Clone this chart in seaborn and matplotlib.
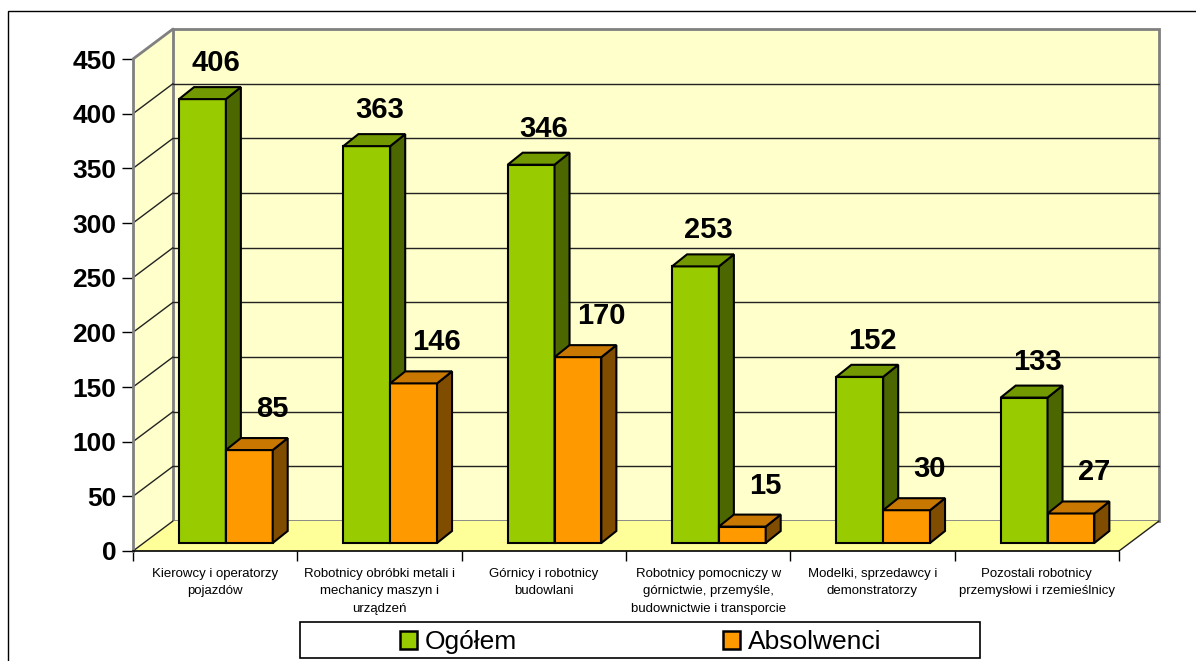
import matplotlib

matplotlib.use("Agg")

import matplotlib.pyplot as plt
import numpy as np
import pandas as pd
import seaborn as sns
from matplotlib.lines import Line2D
from matplotlib.patches import Patch, Polygon, Rectangle
from matplotlib.transforms import Affine2D, IdentityTransform

# data
KATEGORIE = [
    "Kierowcy i operatorzy\npojazdów",
    "Robotnicy obróbki metali i\nmechanicy maszyn i\nurządzeń",
    "Górnicy i robotnicy\nbudowlani",
    "Robotnicy pomocniczy w\ngórnictwie, przemyśle,\nbudownictwie i transporcie",
    "Modelki, sprzedawcy i\ndemonstratorzy",
    "Pozostali robotnicy\nprzemysłowi i rzemieślnicy",
]
SERIE = ["Ogółem", "Absolwenci"]
OGOLEM = [406, 363, 346, 253, 152, 133]
ABSOLWENCI = [85, 146, 170, 15, 30, 27]
Y_TICKS = list(range(0, 451, 50))

# colours: front, top, side of each series
FRONT = ["#99CC00", "#FF9900"]
TOP = ["#739900", "#C87800"]
SIDE = ["#4C6600", "#7F4C00"]

W, H = 1196, 661
FX, FY = 40, 30      # depth of the floor / walls (pixels)
BX, BY = 10.7, 8     # shift of the bar front face into the depth
DX, DY = 15, 12      # depth of each bar
LX = [13, 23]        # label offsets per series
LY = [28, 33]

sns.set_theme(style="white")
plt.rcParams["font.family"] = ["Liberation Sans", "DejaVu Sans"]
plt.rcParams["text.color"] = "black"
plt.rcParams["xtick.color"] = "black"
plt.rcParams["ytick.color"] = "black"

fig = plt.figure(figsize=(W / 100, H / 100), dpi=100)
ax = fig.add_axes([133 / W, 110 / H, 986 / W, 492 / H])
ax.set_facecolor("none")

df = pd.DataFrame(
    {
        "kategoria": KATEGORIE * 2,
        "seria": [SERIE[0]] * len(OGOLEM) + [SERIE[1]] * len(ABSOLWENCI),
        "wartosc": OGOLEM + ABSOLWENCI,
    }
)
sns.barplot(
    data=df,
    x="kategoria",
    y="wartosc",
    hue="seria",
    hue_order=SERIE,
    palette=FRONT,
    saturation=1,
    width=0.57,
    errorbar=None,
    edgecolor="black",
    linewidth=1.5,
    legend=False,
    ax=ax,
)
x0, x1 = -0.5, len(KATEGORIE) - 0.5
ax.set_xlim(x0, x1)
ax.set_ylim(0, 450)


def disp(x, y, ox=0.0, oy=0.0):
    px, py = ax.transData.transform((x, y))
    return (px + ox, py + oy)


def poly(pts, **kw):
    p = Polygon(pts, closed=True, transform=IdentityTransform(), clip_on=False, **kw)
    ax.add_patch(p)
    return p


def line(a, b, **kw):
    ax.add_line(
        Line2D([a[0], b[0]], [a[1], b[1]], transform=IdentityTransform(), clip_on=False, **kw)
    )


ymax = Y_TICKS[-1]
# walls and floor
poly([disp(x0, 0, FX, FY), disp(x1, 0, FX, FY), disp(x1, ymax, FX, FY), disp(x0, ymax, FX, FY)],
     facecolor="#FFFFCC", edgecolor="#808080", linewidth=2, zorder=0.2)
poly([disp(x0, 0), disp(x0, 0, FX, FY), disp(x0, ymax, FX, FY), disp(x0, ymax)],
     facecolor="#FFFFCC", edgecolor="none", zorder=0.1)
poly([disp(x0, 0), disp(x1, 0), disp(x1, 0, FX, FY), disp(x0, 0, FX, FY)],
     facecolor="#FFFF99", edgecolor="none", zorder=0.3)

for v in Y_TICKS[1:-1]:
    line(disp(x0, v, FX, FY), disp(x1, v, FX, FY), color="#222222", linewidth=1, zorder=1)
    line(disp(x0, v), disp(x0, v, FX, FY), color="#222222", linewidth=1, zorder=1)
line(disp(x0, 0), disp(x0, 0, FX, FY), color="#222222", linewidth=1, zorder=1)
line(disp(x1, 0), disp(x1, 0, FX, FY), color="#222222", linewidth=1, zorder=1)
line(disp(x0, ymax), disp(x0, ymax, FX, FY), color="#808080", linewidth=2, zorder=1)

# 3D bars: shift the front faces and add top and side faces
for i, cont in enumerate(ax.containers):
    vals = OGOLEM if i == 0 else ABSOLWENCI
    for j, (rect, v) in enumerate(zip(cont.patches, vals)):
        z = 3 + j * 0.2 + i * 0.1
        rect.set_transform(ax.transData + Affine2D().translate(BX, BY))
        rect.set_zorder(z)
        rect.set_clip_on(False)
        xl = rect.get_x()
        xr = xl + rect.get_width()
        h = rect.get_height()
        poly([disp(xr, 0, BX, BY), disp(xr, h, BX, BY),
              disp(xr, h, BX + DX, BY + DY), disp(xr, 0, BX + DX, BY + DY)],
             facecolor=SIDE[i], edgecolor="black", linewidth=1.5, zorder=z)
        poly([disp(xl, h, BX, BY), disp(xr, h, BX, BY),
              disp(xr, h, BX + DX, BY + DY), disp(xl, h, BX + DX, BY + DY)],
             facecolor=TOP[i], edgecolor="black", linewidth=1.5, zorder=z)
        ax.annotate(
            str(v),
            xy=(xl + rect.get_width() / 2, h),
            xytext=(BX + LX[i], BY + LY[i]),
            textcoords="offset pixels",
            ha="center",
            va="baseline",
            fontsize=21,
            fontweight="bold",
            color="black",
            zorder=10,
        )

# axes and ticks
ax.set_xlabel("")
ax.set_ylabel("")
ax.set_yticks(Y_TICKS)
ax.set_yticklabels([str(t) for t in Y_TICKS], fontsize=19, fontweight="bold")
ax.tick_params(axis="y", left=True, length=8, width=1, color="black", pad=4)
ax.set_xticks(range(len(KATEGORIE)))
ax.set_xticklabels(KATEGORIE, fontsize=9.5, linespacing=1.63)
ax.set_xticks(np.arange(x0, x1 + 0.1, 1), minor=True)
ax.tick_params(axis="x", which="major", length=0, pad=12)
ax.tick_params(axis="x", which="minor", bottom=True, length=7, width=1, color="black")
for side in ["top", "right"]:
    ax.spines[side].set_visible(False)
ax.spines["left"].set_color("#808080")
ax.spines["left"].set_linewidth(2)
ax.spines["bottom"].set_color("black")
ax.spines["bottom"].set_linewidth(1.2)
ax.grid(False)

# outer frame and legend box
fig.add_artist(Rectangle((8 / W, -0.1), 1.2, 650 / H + 0.1, transform=fig.transFigure,
                         fill=False, edgecolor="black", linewidth=1))
fig.add_artist(Rectangle((300 / W, 3 / H), 680 / W, 36 / H, transform=fig.transFigure,
                         fill=False, edgecolor="black", linewidth=1.2))
handles = [Patch(facecolor=c, edgecolor="black", linewidth=1.8) for c in FRONT]
fig.legend(
    handles,
    SERIE,
    loc="center",
    bbox_to_anchor=(641 / W, 19 / H),
    ncol=2,
    frameon=False,
    fontsize=19,
    handlelength=0.65,
    handleheight=0.65,
    handletextpad=0.3,
    columnspacing=7.8,
)

fig.savefig("out.png", dpi=100)
